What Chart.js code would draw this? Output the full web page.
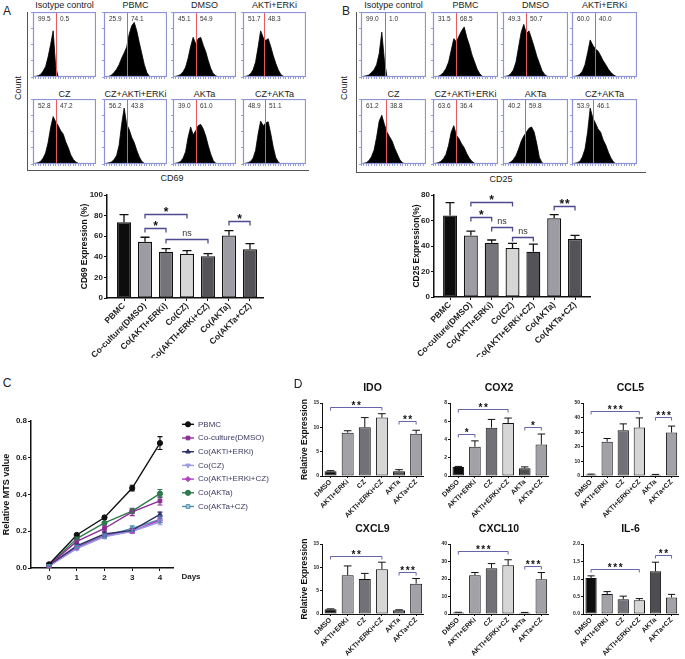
<!DOCTYPE html>
<html>
<head>
<meta charset="utf-8">
<script src="https://cdn.jsdelivr.net/npm/chart.js@4.4.1/dist/chart.umd.min.js"></script>
<style>
body { margin: 0; background: #fff; font-family: "Liberation Sans", Arial, sans-serif; }
#fig { position: relative; width: 685px; height: 659px; overflow: hidden; background: #fff; }
#fig canvas { position: absolute; }
.t { position: absolute; white-space: nowrap; color: #222; line-height: 1; }
.ax { position: absolute; border-left: 1px solid #555; border-bottom: 1px solid #555; }
</style>
</head>
<body>
<div id="fig"></div>
<script>
// ---- flow cytometry histograms (A: CD69, B: CD25) ----
var binPos = [0, 4, 8, 12, 16, 20, 24, 28, 32, 36, 40, 44, 48, 52, 56, 60, 64, 68, 72, 76, 80, 84, 88, 92, 96, 100];
var histTitles = ['Isotype control', 'PBMC', 'DMSO', 'AKTi+ERKi', 'CZ', 'CZ+AKTi+ERKi', 'AKTa', 'CZ+AKTa'];

var cd69Gate = [37, 36, 36, 34, 37, 36, 36, 35];
var cd69Pct = [[99.5, 0.5], [25.9, 74.1], [45.1, 54.9], [51.7, 48.3], [52.8, 47.2], [56.2, 43.8], [39.0, 61.0], [48.9, 51.1]];
var cd69Hist = [
  [0, 1, 2, 4, 9, 16, 31, 50, 71, 16, 0],
  [0, 0, 1, 3, 7, 12, 19, 29, 37, 46, 66, 79, 84, 71, 53, 36, 19, 7, 1, 0],
  [0, 1, 2, 4, 8, 15, 29, 47, 61, 51, 59, 61, 49, 39, 25, 13, 5, 2, 0],
  [0, 1, 2, 5, 11, 23, 46, 71, 61, 56, 59, 47, 33, 21, 11, 4, 1, 0],
  [0, 1, 2, 4, 9, 17, 33, 56, 73, 65, 59, 51, 46, 34, 25, 14, 7, 3, 1, 0],
  [0, 1, 2, 3, 7, 13, 29, 61, 86, 61, 53, 41, 33, 21, 11, 4, 1, 0],
  [0, 1, 2, 4, 9, 19, 41, 57, 45, 51, 59, 61, 54, 43, 28, 15, 5, 1, 0],
  [0, 1, 2, 4, 9, 21, 46, 66, 59, 63, 65, 47, 26, 10, 3, 0]
];

var cd25Gate = [37, 35, 35, 35, 38, 35, 34, 33];
var cd25Pct = [[99.0, 1.0], [31.5, 68.5], [49.3, 50.7], [60.0, 40.0], [61.2, 38.8], [63.6, 36.4], [40.2, 59.8], [53.9, 46.1]];
var cd25Hist = [
  [0, 1, 2, 3, 7, 11, 19, 36, 69, 26, 0],
  [0, 0, 1, 3, 7, 13, 23, 41, 59, 54, 63, 71, 77, 61, 49, 34, 23, 12, 5, 1, 0],
  [0, 1, 2, 5, 11, 23, 46, 69, 81, 67, 71, 59, 46, 32, 21, 10, 4, 1, 0],
  [0, 1, 2, 4, 9, 19, 37, 57, 49, 43, 40, 33, 25, 19, 12, 7, 3, 1, 0],
  [0, 1, 2, 5, 11, 21, 41, 66, 75, 61, 49, 42, 35, 24, 15, 6, 2, 0],
  [0, 1, 2, 4, 8, 15, 29, 49, 59, 44, 39, 31, 25, 16, 9, 4, 1, 0],
  [0, 0, 1, 3, 7, 13, 23, 35, 43, 49, 55, 57, 49, 31, 10, 2, 0],
  [0, 1, 2, 4, 11, 23, 49, 86, 71, 63, 54, 49, 37, 29, 18, 9, 3, 0]
];

// ---- CD69 / CD25 bar charts ----
var coGroups = ['PBMC', 'Co-culture(DMSO)', 'Co(AKTI+ERKi)', 'Co(CZ)', 'Co(AKTI+ERKi+CZ)', 'Co(AKTa)', 'Co(AKTa+CZ)'];
var cd69Mean = [73.5, 54.5, 45, 43, 40.5, 60.8, 47.3];
var cd69Err = [7.5, 4.5, 3, 3, 2.5, 4.7, 5.5];
var cd69Sig = [[1, 3, 82, '*'], [1, 2, 68, '*'], [2, 4, 57, 'ns'], [5, 6, 75, '*']];
var cd25Mean = [64, 48.3, 42.5, 38.5, 35.5, 61.8, 45.5];
var cd25Err = [10, 3.3, 2.2, 3.5, 6, 2.8, 2.8];
var cd25Sig = [[1, 3, 74.5, '*'], [1, 2, 63, '*'], [2, 3, 55, 'ns'], [3, 4, 47, 'ns'], [5, 6, 71.5, '**']];

// ---- C: MTS proliferation ----
var days = [0, 1, 2, 3, 4];
var mtsNames = ['PBMC', 'Co-culture(DMSO)', 'Co(AKTi+ERKi)', 'Co(CZ)', 'Co(AKTi+ERKi+CZ)', 'Co(AKTa)', 'Co(AKTa+CZ)'];
var mtsMean = [
  [0.02, 0.18, 0.275, 0.435, 0.68],
  [0.015, 0.145, 0.215, 0.305, 0.365],
  [0.015, 0.12, 0.185, 0.205, 0.292],
  [0.01, 0.105, 0.17, 0.2, 0.25],
  [0.01, 0.11, 0.175, 0.2, 0.26],
  [0.015, 0.16, 0.245, 0.31, 0.405],
  [0.015, 0.115, 0.175, 0.215, 0.265]
];
var mtsErr = [
  [0.005, 0.008, 0.008, 0.015, 0.035],
  [0.004, 0.012, 0.015, 0.02, 0.022],
  [0.004, 0.01, 0.01, 0.01, 0.012],
  [0.004, 0.008, 0.01, 0.01, 0.015],
  [0.004, 0.008, 0.01, 0.01, 0.012],
  [0.004, 0.008, 0.008, 0.012, 0.022],
  [0.004, 0.008, 0.01, 0.015, 0.018]
];

// ---- D: qPCR ----
var geneGroups = ['DMSO', 'AKTI+ERKi', 'CZ', 'AKTI+ERKi+CZ', 'AKTa', 'AKTa+CZ'];
var geneNames = ['IDO', 'COX2', 'CCL5', 'CXCL9', 'CXCL10', 'IL-6'];
var geneMax = [15, 8, 50, 15, 40, 2];
var geneStep = [5, 2, 10, 5, 10, 0.5];
var geneMean = [
  [1.0, 8.9, 10.0, 12.0, 1.0, 8.7],
  [1.0, 3.2, 5.3, 5.8, 0.85, 3.45],
  [1.0, 23.5, 31.3, 33.2, 0.8, 29.8],
  [1.0, 8.3, 7.5, 9.6, 0.8, 6.5],
  [0.8, 22.2, 26.2, 27.8, 0.7, 19.8],
  [1.03, 0.57, 0.42, 0.39, 1.22, 0.47]
];
var geneErr = [
  [0.1, 0.4, 2.0, 0.8, 0.3, 0.7],
  [0.05, 0.65, 0.9, 0.55, 0.15, 1.15],
  [0.3, 2.2, 4.4, 6.6, 0.3, 4.4],
  [0.1, 2.0, 1.2, 1.5, 0.1, 1.1],
  [0.2, 1.5, 2.6, 3.2, 0.2, 3.9],
  [0.06, 0.07, 0.09, 0.05, 0.26, 0.09]
];
var geneSig = [
  [[0, 3, 14.2, '**'], [4, 5, 11.3, '**']],
  [[0, 3, 7.3, '**'], [0, 1, 4.6, '*'], [4, 5, 5.4, '*']],
  [[0, 3, 44.5, '***'], [4, 5, 40.4, '***']],
  [[0, 3, 12.4, '**'], [4, 5, 9.0, '***']],
  [[0, 3, 36, '***'], [4, 5, 27.4, '***']],
  [[0, 3, 1.29, '***'], [4, 5, 1.69, '**']]
];

// colours
var coColors = ['#0d0d0d', '#9d9ca4', '#75747b', '#d6d6d6', '#545358', '#9d9ca4', '#545358'];
var geneColors = ['#0d0d0d', '#a2a1a8', '#727177', '#d6d6d6', '#4e4d52', '#a2a1a8'];
var mtsColors = ['#111111', '#8e2b98', '#2f2f68', '#9b9be6', '#b23fc2', '#2f7b4d', '#4f8fae'];
var mtsFill = ['#111111', '#8e2b98', '#2f2f68', '#9b9be6', '#b23fc2', '#2f7b4d', '#a9cad9'];
var mtsPoint = ['circle', 'rect', 'triangle', 'triangle', 'rectRot', 'circle', 'rect'];
var mtsRot = [0, 0, 0, 180, 0, 0, 0];

var FONT = '"Liberation Sans", Arial, sans-serif';
Chart.defaults.font.family = FONT;
Chart.defaults.color = '#222';

var fig = document.getElementById('fig');

function addCanvas(x, y, w, h) {
  var c = document.createElement('canvas');
  c.width = w; c.height = h;
  c.style.left = x + 'px'; c.style.top = y + 'px';
  c.style.width = w + 'px'; c.style.height = h + 'px';
  fig.appendChild(c);
  return c;
}

function addText(txt, x, y, size, bold, rot, color) {
  var d = document.createElement('div');
  d.className = 't';
  d.textContent = txt;
  d.style.left = x + 'px'; d.style.top = y + 'px';
  d.style.fontSize = size + 'px';
  if (bold) d.style.fontWeight = 'bold';
  if (color) d.style.color = color;
  d.style.transform = 'translate(-50%,-50%)' + (rot ? ' rotate(' + rot + 'deg)' : '');
  fig.appendChild(d);
}

// gate line, frame and percentages of a histogram
var gatePlugin = {
  id: 'gate',
  afterDatasetsDraw: function (chart, args, o) {
    var a = chart.chartArea, ctx = chart.ctx;
    var gx = Math.round(chart.scales.x.getPixelForValue(o.value));
    ctx.save();
    ctx.fillStyle = '#ea5a5c';
    ctx.fillRect(gx, a.top, 1, a.bottom - a.top);
    ctx.strokeStyle = '#8c93d6';
    ctx.lineWidth = 1.2;
    ctx.strokeRect(a.left + 0.5, a.top + 0.5, a.right - a.left - 1, a.bottom - a.top - 1);
    ctx.fillStyle = '#333';
    ctx.font = '6.5px ' + FONT;
    ctx.textBaseline = 'middle';
    ctx.fillText(o.pct[0].toFixed(1), a.left + 5, a.top + 7);
    ctx.fillText(o.pct[1].toFixed(1), gx + 4, a.top + 7);
    ctx.restore();
  }
};

// error bars (upper only for bars, +/- for lines)
var errPlugin = {
  id: 'errbars',
  afterDatasetsDraw: function (chart, args, o) {
    var ctx = chart.ctx, ys = chart.scales.y;
    chart.data.datasets.forEach(function (ds, di) {
      var meta = chart.getDatasetMeta(di);
      meta.data.forEach(function (el, i) {
        var v = ds.data[i].y, e = o.err[di][i];
        var top = ys.getPixelForValue(v + e);
        var bot = ys.getPixelForValue(o.both ? v - e : v);
        var cap = el.width ? el.width * o.capRatio : o.cap;
        ctx.save();
        ctx.strokeStyle = o.color || ds.borderColor;
        ctx.lineWidth = o.lw;
        ctx.beginPath();
        ctx.moveTo(el.x, bot); ctx.lineTo(el.x, top);
        ctx.moveTo(el.x - cap, top); ctx.lineTo(el.x + cap, top);
        if (o.both) { ctx.moveTo(el.x - cap, bot); ctx.lineTo(el.x + cap, bot); }
        ctx.stroke();
        ctx.restore();
      });
    });
  }
};

// significance brackets
var sigPlugin = {
  id: 'sig',
  afterDatasetsDraw: function (chart, args, o) {
    if (!o.items) return;
    var ctx = chart.ctx, xs = chart.scales.x, ys = chart.scales.y;
    o.items.forEach(function (it) {
      var x1 = xs.getPixelForValue(it[0]), x2 = xs.getPixelForValue(it[1]);
      var y = Math.round(ys.getPixelForValue(it[2])) + 0.5;
      ctx.save();
      ctx.strokeStyle = o.color;
      ctx.lineWidth = o.lw;
      ctx.beginPath();
      ctx.moveTo(x1, y + o.drop); ctx.lineTo(x1, y); ctx.lineTo(x2, y); ctx.lineTo(x2, y + o.drop);
      ctx.stroke();
      ctx.fillStyle = '#111';
      ctx.textAlign = 'center';
      ctx.textBaseline = 'alphabetic';
      if (it[3] === 'ns') {
        ctx.font = o.nsFont;
        ctx.fillStyle = '#333';
        ctx.fillText('ns', (x1 + x2) / 2, y - 4);
      } else {
        ctx.font = o.starFont;
        if (o.spacing) ctx.letterSpacing = o.spacing + 'px';
        ctx.fillText(it[3], (x1 + x2) / 2 + (o.spacing || 0) / 2, y + o.starDy);
      }
      ctx.restore();
    });
  }
};

// legend for panel C
var mtsLegend = {
  id: 'mtsLegend',
  afterDraw: function (chart, args, o) {
    var a = chart.chartArea, ctx = chart.ctx;
    chart.data.datasets.forEach(function (ds, k) {
      var x = a.right + o.x0, y = a.top + o.y0 + k * o.dy;
      ctx.save();
      ctx.strokeStyle = ds.borderColor;
      ctx.fillStyle = ds.backgroundColor;
      ctx.lineWidth = 1.4;
      ctx.beginPath(); ctx.moveTo(x, y); ctx.lineTo(x + 12, y); ctx.stroke();
      ctx.lineWidth = 1;
      Chart.helpers.drawPoint(ctx, {pointStyle: ds.pointStyle, rotation: ds.rotation, radius: 2.6, borderWidth: 1}, x + 6, y);
      ctx.fillStyle = '#3b3b62';
      ctx.font = '8px ' + FONT;
      ctx.textBaseline = 'middle';
      ctx.fillText(ds.label, x + 16, y);
      ctx.restore();
    });
  }
};

function histChart(box, hist, gate, pct) {
  var c = addCanvas(box.x - 3, box.y, box.w + 3, box.h + 3);
  new Chart(c, {
    type: 'line',
    data: {
      datasets: [{
        data: binPos.map(function (b, i) { return {x: b, y: hist[i] || 0}; }),
        fill: 'origin', backgroundColor: '#000', borderColor: '#000',
        borderWidth: 0.8, pointRadius: 0, tension: 0
      }]
    },
    options: {
      responsive: false, animation: false, devicePixelRatio: 1,
      layout: {padding: 0},
      plugins: {legend: {display: false}, tooltip: {enabled: false}, gate: {value: gate, pct: pct}},
      scales: {
        x: {
          type: 'linear', min: 0, max: 100,
          afterFit: function (s) { s.height = 3; s.paddingLeft = 0; s.paddingRight = 0; },
          ticks: {display: false, stepSize: 4, autoSkip: false},
          grid: {drawOnChartArea: false, tickLength: 2, color: '#9aa0dc'},
          border: {display: false}
        },
        y: {
          min: 0, max: 100,
          afterFit: function (s) { s.width = 3; s.paddingTop = 0; s.paddingBottom = 0; },
          ticks: {display: false, stepSize: 25},
          grid: {drawOnChartArea: false, tickLength: 2, color: '#9aa0dc'},
          border: {display: false}
        }
      }
    },
    plugins: [gatePlugin]
  });
}

function barChart(p) {
  var plotW = p.r - p.l, plotH = p.b - p.t;
  var c = addCanvas(p.l - p.yw, p.t - p.padT, p.yw + plotW + p.padR, p.padT + plotH + p.xh);
  return new Chart(c, {
    type: 'bar',
    data: {
      datasets: [{
        data: p.mean.map(function (v, i) { return {x: i, y: v}; }),
        backgroundColor: p.colors, borderColor: '#111', borderWidth: p.bw,
        borderSkipped: false, barPercentage: p.bp, categoryPercentage: 1
      }]
    },
    options: {
      responsive: false, animation: false, devicePixelRatio: 1,
      layout: {padding: {top: p.title ? 0 : p.padT, right: p.padR, left: 0, bottom: 0}},
      plugins: {
        legend: {display: false}, tooltip: {enabled: false},
        title: {
          display: !!p.title, text: p.title || '', fullSize: false,
          font: {size: 10.5, weight: 'bold'}, color: '#111',
          padding: {top: 0, bottom: p.padT - 12.6}
        },
        errbars: {err: [p.err], lw: p.elw, capRatio: 0.32, both: false, color: '#111'},
        sig: {items: p.sig, color: p.sigColor, lw: p.sigLw, drop: p.drop, starFont: p.starFont,
              nsFont: p.nsFont, spacing: p.spacing, starDy: p.starDy}
      },
      scales: {
        x: {
          type: 'linear', min: p.xmin, max: p.xmax, offset: false,
          afterFit: function (s) { s.height = p.xh; s.paddingLeft = 0; s.paddingRight = 0; },
          grid: {drawOnChartArea: false, tickLength: p.tick, color: '#111', offset: false},
          border: {color: '#111', width: p.axisW},
          ticks: {
            stepSize: 1, includeBounds: false, autoSkip: false, minRotation: 45, maxRotation: 45,
            padding: 0, font: {size: p.xFont, weight: 'bold'}, color: '#222',
            callback: function (v) { return p.labels[v]; }
          }
        },
        y: {
          min: 0, max: p.yMax,
          afterFit: function (s) { s.width = p.yw; s.paddingTop = 0; s.paddingBottom = 0; },
          grid: {drawOnChartArea: false, tickLength: p.tick, color: '#111'},
          border: {color: '#111', width: p.axisW},
          ticks: {
            stepSize: p.yStep, padding: 1, font: {size: p.yFont, weight: 'bold'}, color: '#222',
            callback: function (v) { return p.yDec ? v.toFixed(p.yDec) : String(v); }
          },
          title: {
            display: !!p.yTitle, text: p.yTitle || '', font: {size: p.yTitleFont, weight: 'bold'},
            color: '#111', padding: {top: p.yTitlePad, bottom: 0}
          }
        }
      }
    },
    plugins: [errPlugin, sigPlugin]
  });
}

// ---------- panel A / B histograms ----------
var boxA = {xs: [33, 104, 173, 243], ys: [12, 99], w: 63, h: 65};
var boxB = {xs: [361, 433, 503, 572], ys: [12, 99], w: 65, h: 65};

function histPanel(bx, hists, gates, pcts) {
  hists.forEach(function (h, k) {
    var box = {x: bx.xs[k % 4], y: bx.ys[Math.floor(k / 4)], w: bx.w, h: bx.h};
    histChart(box, h, gates[k], pcts[k]);
    addText(histTitles[k], box.x + box.w / 2, k < 4 ? 5 : 94, 9, false);
  });
}

var axA = document.createElement('div'); axA.className = 'ax';
axA.style.cssText = 'left:27px;top:12px;width:281px;height:158px;';
fig.appendChild(axA);
var axB = document.createElement('div'); axB.className = 'ax';
axB.style.cssText = 'left:356px;top:12px;width:289px;height:160px;';
fig.appendChild(axB);

histPanel(boxA, cd69Hist, cd69Gate, cd69Pct);
histPanel(boxB, cd25Hist, cd25Gate, cd25Pct);

addText('Count', 18, 88, 9, false, -90);
addText('Count', 344, 88, 9, false, -90);
addText('CD69', 172, 178, 9, false);
addText('CD25', 501, 179, 9, false);

// ---------- panel A / B bars ----------
barChart({
  l: 107, r: 263, t: 195, b: 298, yw: 28, padT: 10, padR: 12, xh: 60,
  labels: coGroups, mean: cd69Mean, err: cd69Err, colors: coColors,
  yMax: 100, yStep: 20, xmin: -0.81, xmax: 6.62, bp: 0.67, bw: 1.3, elw: 1.3, tick: 3, axisW: 1.5,
  xFont: 8.5, yFont: 8, sig: cd69Sig, sigColor: '#4d4a8f', sigLw: 1.3, drop: 4,
  starFont: 'bold 12px ' + FONT, nsFont: '9px ' + FONT, spacing: 0, starDy: 1,
  yTitle: 'CD69 Expression (%)', yTitleFont: 8.5, yTitlePad: 1
});
barChart({
  l: 434, r: 590, t: 195, b: 297, yw: 22, padT: 10, padR: 12, xh: 60,
  labels: coGroups, mean: cd25Mean, err: cd25Err, colors: coColors,
  yMax: 80, yStep: 20, xmin: -0.77, xmax: 6.72, bp: 0.67, bw: 1.3, elw: 1.3, tick: 3, axisW: 1.5,
  xFont: 8.5, yFont: 8, sig: cd25Sig, sigColor: '#4d4a8f', sigLw: 1.3, drop: 4,
  starFont: 'bold 12px ' + FONT, nsFont: '9px ' + FONT, spacing: 1, starDy: 1,
  yTitle: 'CD25 Expression(%)', yTitleFont: 8.5, yTitlePad: 0
});

// ---------- panel C ----------
var cC = addCanvas(0, 411, 283, 177);
new Chart(cC, {
  type: 'line',
  data: {
    datasets: mtsMean.map(function (vals, k) {
      return {
        label: mtsNames[k],
        data: days.map(function (d, i) { return {x: d, y: vals[i]}; }),
        borderColor: mtsColors[k], backgroundColor: mtsFill[k],
        pointStyle: mtsPoint[k], rotation: mtsRot[k], pointRadius: 2.6,
        pointBorderWidth: 1, borderWidth: 1.4, tension: 0
      };
    })
  },
  options: {
    responsive: false, animation: false, devicePixelRatio: 1,
    layout: {padding: {top: 10, right: 110, left: 0, bottom: 0}},
    plugins: {
      legend: {display: false}, tooltip: {enabled: false},
      errbars: {err: mtsErr, lw: 1.1, cap: 2.5, both: true},
      mtsLegend: {x0: 9, y0: 3.3, dy: 13.7}
    },
    scales: {
      x: {
        type: 'linear', min: -0.65, max: 4.47,
        afterFit: function (s) { s.height = 20; s.paddingLeft = 0; s.paddingRight = 0; },
        grid: {drawOnChartArea: false, tickLength: 3, color: '#111'},
        border: {color: '#111', width: 1.5},
        ticks: {stepSize: 1, includeBounds: false, autoSkip: false, maxRotation: 0, minRotation: 0,
                padding: 2, font: {size: 8, weight: 'bold'}, color: '#222'}
      },
      y: {
        min: 0, max: 0.8,
        afterFit: function (s) { s.width = 31; s.paddingTop = 0; s.paddingBottom = 0; },
        grid: {drawOnChartArea: false, tickLength: 3, color: '#111'},
        border: {color: '#111', width: 1.5},
        ticks: {stepSize: 0.2, padding: 1, font: {size: 8, weight: 'bold'}, color: '#222',
                callback: function (v) { return v.toFixed(1); }},
        title: {display: true, text: 'Relative MTS value', font: {size: 9, weight: 'bold'},
                color: '#111', padding: {top: 1.5, bottom: 0}}
      }
    }
  },
  plugins: [errPlugin, mtsLegend]
});
addText('Days', 191, 577, 8, true);

// ---------- panel D ----------
var dCols = [{l: 322, r: 423, yw: 22}, {l: 450, r: 548, yw: 14}, {l: 583, r: 678, yw: 14}];
var dRows = [{t: 403, b: 476, xh: 50}, {t: 544, b: 614, xh: 45}];
geneNames.forEach(function (g, k) {
  var col = dCols[k % 3], row = dRows[Math.floor(k / 3)];
  barChart({
    l: col.l, r: col.r, t: row.t, b: row.b, yw: col.yw, padT: 21, padR: 6, xh: row.xh,
    title: g, labels: geneGroups, mean: geneMean[k], err: geneErr[k], colors: geneColors,
    yMax: geneMax[k], yStep: geneStep[k], yDec: k === 5 ? 1 : 0,
    xmin: -0.5, xmax: 5.4, bp: 0.7, bw: 1, elw: 1, tick: 2, axisW: 1,
    xFont: 7, yFont: 5, sig: geneSig[k], sigColor: '#5652a0', sigLw: 0.9, drop: 3,
    starFont: 'bold 10px ' + FONT, nsFont: '8px ' + FONT, spacing: 1.5, starDy: 1,
    yTitle: k % 3 === 0 ? 'Relative Expression' : '', yTitleFont: 8.5, yTitlePad: 0
  });
});

// panel letters
addText('A', 7, 11, 12, false);
addText('B', 346, 11, 12, false);
addText('C', 7, 383, 12, false);
addText('D', 298, 384, 12, false);
</script>
</body>
</html>
